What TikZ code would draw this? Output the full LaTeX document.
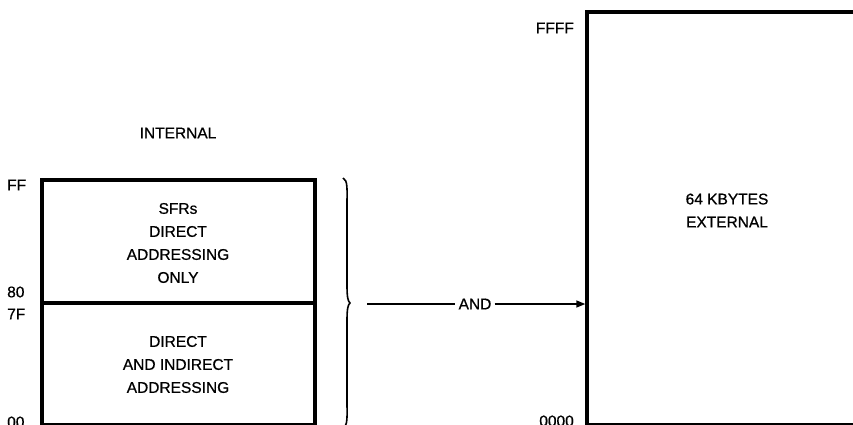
\documentclass[tikz,border=0pt]{standalone}
\usepackage{fontspec}
\setmainfont{Liberation Sans}
\newfontfamily\lblfont[FakeBold=0.7]{Liberation Sans}
\usetikzlibrary{arrows.meta}
\begin{document}
\begin{tikzpicture}[x=1pt,y=-1pt,
  memblock/.style={draw,line width=3.4pt,inner sep=0pt},
  lbl/.style={font=\lblfont\fontsize{15.5}{23}\selectfont,align=center,inner sep=0pt},
  conn/.style={line width=1.4pt},
  tip/.style={-{Triangle[length=9pt,width=7pt]}}]
\useasboundingbox (0,0) rectangle (853,425);
% left internal memory
\node[memblock,minimum width=273pt,minimum height=123pt] (sfr) at (178.5,241.5) {};
\node[memblock,minimum width=273pt,minimum height=122pt] (dir) at (178.5,364) {};
\node[lbl] (sfrtxt) at (178,243) {SFRs\\DIRECT\\ADDRESSING\\ONLY};
\node[lbl] (dirtxt) at (178,364.5) {DIRECT\\AND INDIRECT\\ADDRESSING};
\node[lbl] (internal) at (178,133) {INTERNAL};
% address labels
\node[lbl,anchor=west] (aff) at (7,185) {FF};
\node[lbl,anchor=west] (a80) at (7,292) {80};
\node[lbl,anchor=west] (a7f) at (7,314) {7F};
\node[lbl,anchor=west] (a00) at (7,422) {00};
% external memory
\node[memblock,minimum width=290pt,minimum height=413pt] (ext) at (732,218.5) {};
\node[lbl] (exttxt) at (727,210.5) {64 KBYTES\\EXTERNAL};
\node[lbl,anchor=east] (affff) at (574,28) {FFFF};
\node[lbl,anchor=east] (a0000) at (574,421) {0000};
% brace
\coordinate (btop) at (343,178);
\coordinate (btip) at (350,303);
\coordinate (bbot) at (343,428);
\draw[line width=1.6pt] (btop) .. controls (348,180) and (347,190) .. (347,205)
  -- (347,285) .. controls (347,298) and (348,301) .. (btip)
  .. controls (348,305) and (347,308) .. (347,321)
  -- (347,401) .. controls (347,416) and (348,426) .. (bbot);
% connector
\coordinate (astart) at (367,304);
\node[lbl,fill=white,inner sep=3pt] (and) at (475,304) {AND};
\draw[conn] (astart) -- (and.west);
\draw[conn,tip] (and.east) -- (ext.west |- and);
\end{tikzpicture}
\end{document}
